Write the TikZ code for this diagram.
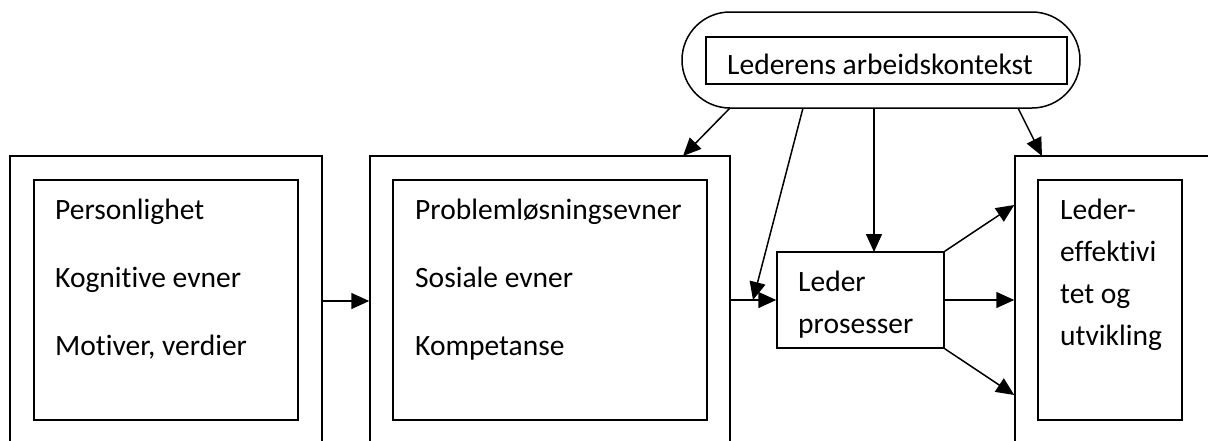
\documentclass[tikz,border=0pt]{standalone}
\usepackage{fontspec}
\setmainfont[Ligatures={NoCommon}]{Carlito}
\usetikzlibrary{shapes.misc,arrows.meta}
\begin{document}
\begin{tikzpicture}[x=1pt,y=-1pt,
  box/.style={draw,line width=1.5pt,rectangle,inner sep=0pt},
  lbl/.style={anchor=base west,inner sep=0pt,font=\fontsize{29.5}{35}\selectfont},
  arr/.style={line width=1.5pt,-{Triangle[length=18pt,width=16pt]}},
  ln/.style={line width=1.5pt}]
\useasboundingbox (0,0) rectangle (1208,440);
\clip (0,0) rectangle (1208,440);
% outer boxes
\node[box,minimum width=312pt,minimum height=320pt] (o1) at (166,316) {};
\node[box,minimum width=360pt,minimum height=320pt] (o2) at (550,316) {};
\node[box,minimum width=240pt,minimum height=320pt] (o3) at (1135,316) {};
% inner boxes
\node[box,minimum width=264pt,minimum height=240pt] (i1) at (166,300) {};
\node[box,minimum width=314pt,minimum height=240pt] (i2) at (550,300) {};
\node[box,minimum width=144pt,minimum height=240pt] (i3) at (1110,300) {};
% texts
\node[lbl] (t11) at (55,219) {Personlighet};
\node[lbl] (t12) at (55,287) {Kognitive evner};
\node[lbl] (t13) at (55,355) {Motiver, verdier};
\node[lbl] (t21) at (415,219) {Problemløsningsevner};
\node[lbl] (t22) at (415,287) {Sosiale evner};
\node[lbl] (t23) at (415,355) {Kompetanse};
\node[lbl] (t31) at (1060,219) {Leder-};
\node[lbl] (t32) at (1060,261) {effektivi};
\node[lbl] (t33) at (1060,303) {tet og};
\node[lbl] (t34) at (1060,345) {utvikling};
% leder box
\node[box,minimum width=167pt,minimum height=96pt] (ld) at (860.5,300) {};
\node[lbl] (l1) at (798,291) {Leder};
\node[lbl] (l2) at (798,333) {prosesser};
% context
\node[draw,line width=1.5pt,rounded rectangle,minimum width=398pt,minimum height=96pt,inner sep=0pt] (ctx) at (881,60) {};
\node[box,minimum width=361pt,minimum height=47pt] (ci) at (886.5,60.5) {};
\node[lbl] (ct) at (727,74) {Lederens arbeidskontekst};
% coordinates
\coordinate (a1s) at (730,108);
\coordinate (a1e) at (683,156);
\coordinate (a2s) at (803,108);
\coordinate (a2e) at (753,300);
\coordinate (a3s) at (874,108);
\coordinate (a3e) at (874,252);
\coordinate (a4s) at (1018,108);
\coordinate (a4e) at (1042,156);
% connectors
\draw[arr] (o1.east |- 0,301) -- (o2.west |- 0,301);
\draw[arr] (o2.east |- 0,300) -- (ld.west);
\draw[arr] (a1s) -- (a1e);
\draw[arr] (a2s) -- (a2e);
\draw[arr] (a3s) -- (a3e);
\draw[arr] (a4s) -- (a4e);
\draw[arr] (ld.north east) -- (o3.west |- 0,205);
\draw[arr] (ld.east) -- (o3.west |- 0,300);
\draw[arr] (ld.south east) -- (o3.west |- 0,395);
\end{tikzpicture}
\end{document}
